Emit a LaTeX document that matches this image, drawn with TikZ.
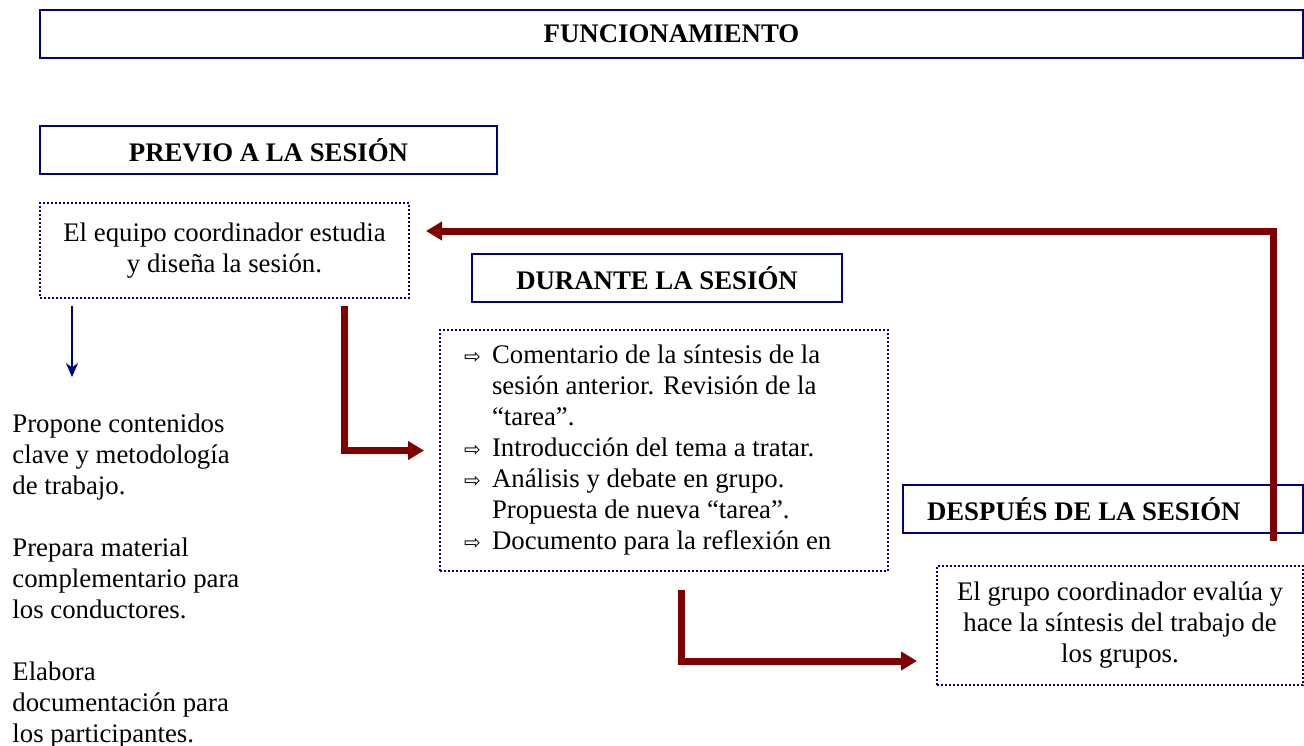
\documentclass[tikz,border=0pt]{standalone}
\usepackage{fontspec}
\setmainfont{Liberation Serif}
\newfontfamily\symfont{DejaVu Sans}
\usepackage{xcolor}
\usepackage{tikz}
\usetikzlibrary{calc}
\usetikzlibrary{arrows.meta}
\definecolor{boxblue}{RGB}{0,0,128}
\definecolor{arrowred}{RGB}{128,0,0}
\newcommand{\itemarrow}{\makebox[14pt][l]{\symfont\fontsize{10}{10}\selectfont ⇨}}
\newcommand{\itemgap}{\hspace*{14pt}}

\begin{document}
\begin{tikzpicture}[x=0.5pt,y=-0.5pt,
		every node/.style={font=\fontsize{13.4}{15.5}\selectfont},
		headbox/.style={draw=boxblue,line width=1.4pt,outer sep=0pt,font=\fontsize{13.4}{15.5}\selectfont\bfseries,minimum height=24pt},
		dotbox/.style={draw=boxblue,line width=1pt,outer sep=0pt,dash pattern=on 1pt off 1pt,align=center},
		flow/.style={draw=arrowred,line width=3.5pt,-{Triangle[length=8pt,width=9pt]}},
		smallarrow/.style={draw=boxblue,line width=1pt,-{Stealth[length=7pt,width=6pt]}}]
			\useasboundingbox (0,0) rectangle (1304,745);
			\node [headbox,minimum width=631.5pt] (func) at (671.5,34) {FUNCIONAMIENTO};
			\node [headbox,minimum width=228.5pt] (previo) at (268.5,150) {PREVIO A LA SESIÓN};
			\node [dotbox,minimum width=184.5pt,minimum height=47.5pt] (equipo) at (224.5,250.5) {El equipo coordinador estudia\\y diseña la sesión.};
			\node [headbox,minimum width=185pt] (durante) at (657,278) {DURANTE LA SESIÓN};
			\node [dotbox,align=flush left,text width=200pt,inner xsep=12pt,minimum height=120.5pt] (tareas) at (664,450.5) {\itemarrow Comentario de la síntesis de la\\\itemgap sesión anterior. Revisión de la\\\itemgap “tarea”.\\\itemarrow Introducción del tema a tratar.\\\itemarrow Análisis y debate en grupo.\\\itemgap Propuesta de nueva “tarea”.\\\itemarrow Documento para la reflexión en};
			\node [headbox,anchor=west,align=flush left,text width=176pt,inner xsep=12pt] (despues) at (903,509) {DESPUÉS DE LA SESIÓN};
			\node [dotbox,minimum width=183pt,minimum height=59.5pt] (evalua) at (1120,625.5) {El grupo coordinador evalúa y\\hace la síntesis del trabajo de\\los grupos.};
			\node [anchor=north west,align=left,inner sep=0pt] (propone) at (12,413) {Propone contenidos\\clave y metodología\\de trabajo.};
			\node [anchor=north west,align=left,inner sep=0pt] (prepara) at (12,537) {Prepara material\\complementario para\\los conductores.};
			\node [anchor=north west,align=left,inner sep=0pt] (elabora) at (12,661) {Elabora\\documentación para\\los participantes.};
			\draw [smallarrow] ($(equipo.south west)+(32,8)$) -- ($(propone.north west)+(60,-36)$);
			\draw [flow] ($(equipo.south west)+(304,8)$) |- ($(tareas.west)+(-16,0)$);
			\draw [flow] ($(despues.south east)+(-30,8)$) |- ($(equipo.east)+(17,-19.5)$);
			\draw [flow] ($(tareas.south west)+(241,19)$) |- ($(evalua.south west)+(-20,-24)$);
		\end{tikzpicture}
\end{document}
